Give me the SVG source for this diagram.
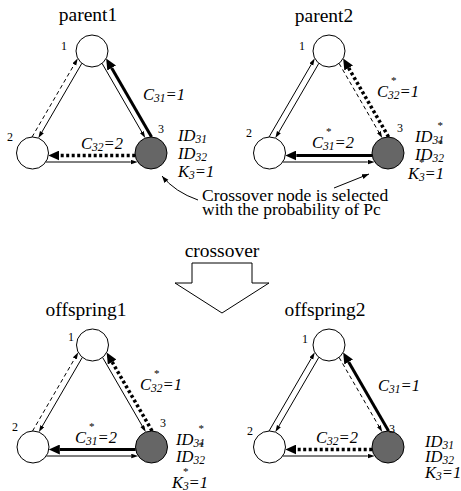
<svg xmlns="http://www.w3.org/2000/svg" width="461" height="491" viewBox="0 0 461 491">
<defs>
<style>
text{font-family:"Liberation Serif","Times New Roman",serif;fill:#000}
.title{font-size:19.5px;text-anchor:middle}
.num{font-size:12px}
.lab{font-size:16.5px;font-style:italic}
.s{font-size:11.5px}
.st{font-size:11px;font-style:normal}
.note{font-size:17.5px}
circle{stroke:#000;stroke-width:1}
.wn{fill:#fff}
.gn{fill:#666}
.e{fill:none;stroke:#000}
.t{stroke-width:1}
.dash{stroke-dasharray:4,3}
.th{stroke-width:3}
.dot{stroke-width:3.5;stroke-dasharray:3,2.5}
.sa{marker-end:url(#as)}
.ba{marker-end:url(#ab)}
</style>
<marker id="as" markerUnits="userSpaceOnUse" markerWidth="8" markerHeight="6" refX="0" refY="2.2" orient="auto"><path d="M0,0L7,2.2L0,4.4z"/></marker>
<marker id="ab" markerUnits="userSpaceOnUse" markerWidth="12" markerHeight="10" refX="0" refY="5" orient="auto"><path d="M0,0L11,5L0,10z"/></marker>
<marker id="ac" markerUnits="userSpaceOnUse" markerWidth="8" markerHeight="6" refX="7" refY="2.5" orient="auto"><path d="M0,0L7,2.5L0,5z"/></marker>
</defs>
<rect width="461" height="491" fill="#fff"/>

<!-- parent1 -->
<text class="title" x="88" y="21">parent1</text>
<g transform="translate(92,51)">
<g id="p1-edges">
<line class="e t sa" x1="-10.17" y1="12.35" x2="-50.12" y2="81.06"/>
<line class="e t dash sa" x1="-59.96" y1="86.01" x2="-17.72" y2="13.42"/>
<line class="e t sa" x1="10.08" y1="12.43" x2="49.75" y2="81.01"/>
<line class="e th ba" x1="59.57" y1="86.01" x2="19.66" y2="16.99"/>
<line class="e dot ba" x1="43.2" y1="104.5" x2="-32.7" y2="104.5"/>
<line class="e t sa" x1="-46.27" y1="111" x2="38.77" y2="111"/>
<text class="lab" x="51" y="49">C<tspan class="s" dy="2">31</tspan><tspan dy="-2">=1</tspan></text>
<text class="lab" x="-11" y="98">C<tspan class="s" dy="2">32</tspan><tspan dy="-2">=2</tspan></text>
</g>
<g id="p1-n1"><circle class="wn" cx="0" cy="0" r="16"/><text class="num" x="-31" y="-1">1</text></g>
<g id="p1-n2"><circle class="wn" cx="-59.5" cy="102" r="16"/><text class="num" x="-85" y="90">2</text></g>
<g id="p1-n3"><circle class="gn" cx="59" cy="102" r="16"/><text class="num" x="66" y="82">3</text>
<text class="lab" x="86" y="90">ID<tspan class="s" dy="2">31</tspan></text>
<text class="lab" x="86" y="108">ID<tspan class="s" dy="2">32</tspan></text>
<text class="lab" x="86" y="126">K<tspan class="s" dy="2">3</tspan><tspan dy="-2">=1</tspan></text></g>
</g>

<!-- parent2 -->
<text class="title" x="324" y="22">parent2</text>
<g transform="translate(329,51)">
<g id="p2-edges">
<line class="e t sa" x1="-10.17" y1="12.35" x2="-50.12" y2="81.06"/>
<line class="e t sa" x1="-59.96" y1="86.01" x2="-17.72" y2="13.42"/>
<line class="e t dash sa" x1="10.08" y1="12.43" x2="49.75" y2="81.01"/>
<line class="e dot ba" x1="59.57" y1="86.01" x2="19.66" y2="16.99"/>
<line class="e th ba" x1="43.2" y1="104.5" x2="-32.7" y2="104.5"/>
<line class="e t sa" x1="-46.27" y1="111" x2="38.77" y2="111"/>
<text class="lab" x="48" y="46">C<tspan class="s" dy="2">32</tspan><tspan class="st" dx="-8.5" dy="-15">*</tspan><tspan dx="3" dy="13">=1</tspan></text>
<text class="lab" x="-17" y="97">C<tspan class="s" dy="2">31</tspan><tspan class="st" dx="-8.5" dy="-15">*</tspan><tspan dx="3" dy="13">=2</tspan></text>
</g>
<g id="p2-n1"><circle class="wn" cx="0" cy="0" r="16"/><text class="num" x="-30" y="-1">1</text></g>
<g id="p2-n2"><circle class="wn" cx="-59.5" cy="102" r="16"/><text class="num" x="-83" y="86">2</text></g>
<g id="p2-n3"><circle class="gn" cx="59" cy="102" r="16"/><text class="num" x="68" y="81">3</text>
<text class="lab" x="86" y="91">ID<tspan class="s" dy="2">31</tspan><tspan class="st" dx="-6.5" dy="-15">*</tspan></text>
<text class="lab" x="86" y="109">ID<tspan class="s" dy="2">32</tspan><tspan class="st" dx="-6.5" dy="-15">*</tspan></text>
<text class="lab" x="79" y="128">K<tspan class="s" dy="2">3</tspan><tspan class="st" dx="-5.75" dy="-15">*</tspan><tspan dy="13">=1</tspan></text></g>
</g>

<!-- crossover note -->
<g id="note">
<text class="note" x="202" y="201">Crossover node is selected</text>
<text class="note" x="202" y="215">with the probability of Pc</text>
</g>
<g id="note-arrows">
<path class="e t" d="M198,200 Q175,192 162,176" marker-end="url(#ac)"/>
<line class="e t" x1="334" y1="188" x2="369" y2="174" marker-end="url(#ac)"/>
</g>

<!-- crossover arrow -->
<g id="crossover">
<text class="title" x="222" y="257">crossover</text>
<polygon points="192,263 252,263 252,283 269,283 222,313 175,283 192,283" fill="#fff" stroke="#000" stroke-width="1"/>
</g>

<!-- offspring1 -->
<text class="title" x="86" y="316">offspring1</text>
<g transform="translate(92.5,345)">
<g id="o1-edges">
<line class="e t sa" x1="-10.17" y1="12.35" x2="-50.12" y2="81.06"/>
<line class="e t dash sa" x1="-59.96" y1="86.01" x2="-17.72" y2="13.42"/>
<line class="e t sa" x1="10.08" y1="12.43" x2="49.75" y2="81.01"/>
<line class="e dot ba" x1="59.57" y1="86.01" x2="19.66" y2="16.99"/>
<line class="e th ba" x1="43.2" y1="104.5" x2="-32.7" y2="104.5"/>
<line class="e t sa" x1="-46.27" y1="111" x2="38.77" y2="111" stroke="#444"/>
<text class="lab" x="47.5" y="45">C<tspan class="s" dy="2">32</tspan><tspan class="st" dx="-8.5" dy="-15">*</tspan><tspan dx="3" dy="13">=1</tspan></text>
<text class="lab" x="-17.5" y="98">C<tspan class="s" dy="2">31</tspan><tspan class="st" dx="-8.5" dy="-15">*</tspan><tspan dx="3" dy="13">=2</tspan></text>
</g>
<g id="o1-n1"><circle class="wn" cx="0" cy="0" r="16"/><text class="num" x="-24.5" y="-4">1</text></g>
<g id="o1-n2"><circle class="wn" cx="-59.5" cy="102" r="16"/><text class="num" x="-80.5" y="86">2</text></g>
<g id="o1-n3"><circle class="gn" cx="59" cy="102" r="16"/><text class="num" x="67.5" y="82">3</text>
<text class="lab" x="83.5" y="100">ID<tspan class="s" dy="2">31</tspan><tspan class="st" dx="-6.5" dy="-15">*</tspan></text>
<text class="lab" x="83.5" y="117">ID<tspan class="s" dy="2">32</tspan><tspan class="st" dx="-6.5" dy="-15">*</tspan></text>
<text class="lab" x="79.5" y="143">K<tspan class="s" dy="2">3</tspan><tspan class="st" dx="-5.75" dy="-15">*</tspan><tspan dy="13">=1</tspan></text></g>
</g>

<!-- offspring2 -->
<text class="title" x="325" y="316">offspring2</text>
<g transform="translate(329,345)">
<g id="o2-edges">
<line class="e t sa" x1="-10.17" y1="12.35" x2="-50.12" y2="81.06"/>
<line class="e t sa" x1="-59.96" y1="86.01" x2="-17.72" y2="13.42"/>
<line class="e t dash sa" x1="10.08" y1="12.43" x2="49.75" y2="81.01"/>
<line class="e th ba" x1="59.57" y1="86.01" x2="19.66" y2="16.99"/>
<line class="e dot ba" x1="43.2" y1="104.5" x2="-32.7" y2="104.5"/>
<line class="e t sa" x1="-46.27" y1="111" x2="38.77" y2="111"/>
<text class="lab" x="49" y="46">C<tspan class="s" dy="2">31</tspan><tspan dy="-2">=1</tspan></text>
<text class="lab" x="-13" y="98">C<tspan class="s" dy="2">32</tspan><tspan dy="-2">=2</tspan></text>
</g>
<g id="o2-n1"><circle class="wn" cx="0" cy="0" r="16"/><text class="num" x="-27" y="-2">1</text></g>
<g id="o2-n2"><circle class="wn" cx="-59.5" cy="102" r="16"/><text class="num" x="-82" y="90">2</text></g>
<g id="o2-n3"><circle class="gn" cx="59" cy="102" r="16"/><text class="num" x="60" y="88">3</text>
<text class="lab" x="96" y="102">ID<tspan class="s" dy="2">31</tspan></text>
<text class="lab" x="96" y="117">ID<tspan class="s" dy="2">32</tspan></text>
<text class="lab" x="96" y="133">K<tspan class="s" dy="2">3</tspan><tspan dy="-2">=1</tspan></text></g>
</g>
</svg>
